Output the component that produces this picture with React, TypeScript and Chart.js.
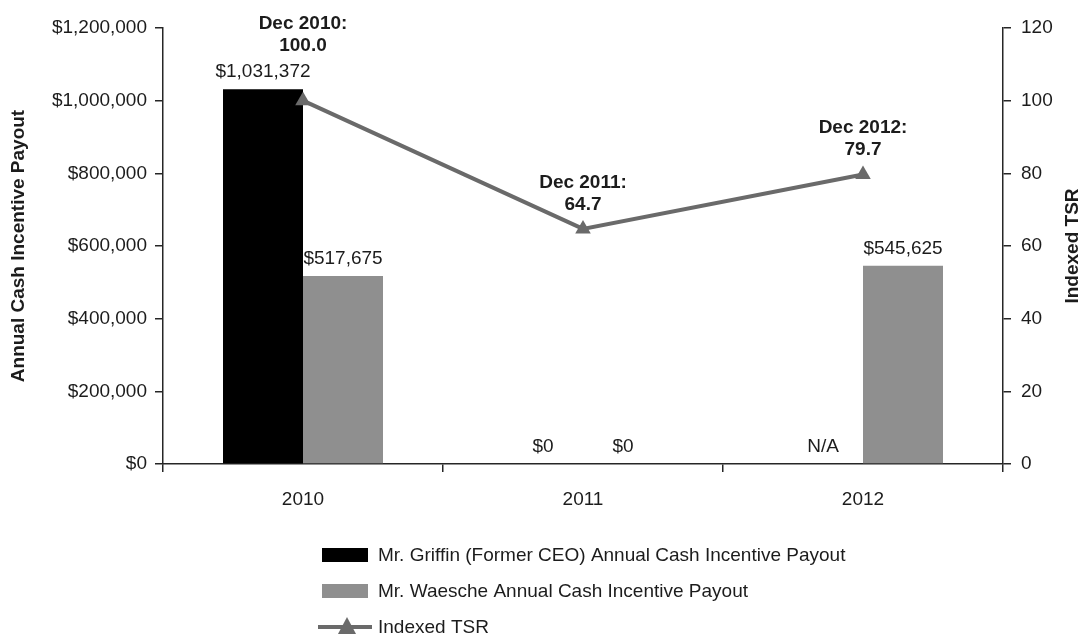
import React, { useEffect, useRef } from "react";
import { Chart, registerables } from "chart.js";

Chart.register(...registerables);

const categories = ["2010", "2011", "2012"];
const griffinPayout: (number | null)[] = [1031372, 0, null];
const waeschePayout: (number | null)[] = [517675, 0, 545625];
const tsrValues = [100.0, 64.7, 79.7];
const tsrDates = ["Dec 2010", "Dec 2011", "Dec 2012"];
const seriesNames = [
  "Mr. Griffin (Former CEO) Annual Cash Incentive Payout",
  "Mr. Waesche Annual Cash Incentive Payout",
  "Indexed TSR",
];
const leftAxisTitle = "Annual Cash Incentive Payout";
const rightAxisTitle = "Indexed TSR";

const FONT = "'Liberation Sans', Arial, Helvetica, sans-serif";
const FS = 19;
const TEXT = "#1c1c1c";
const AXIS = "#262626";
const BLACK = "#000000";
const GRAY = "#8f8f8f";
const LINE = "#6a6a6a";

const fmtMoney = (v: number) => "$" + Math.round(v).toLocaleString("en-US");

const labelsPlugin = {
  id: "customLabels",
  afterDraw(chart: any) {
    const ctx = chart.ctx as CanvasRenderingContext2D;
    const area = chart.chartArea;
    ctx.save();
    ctx.fillStyle = TEXT;
    ctx.textAlign = "center";
    ctx.textBaseline = "alphabetic";
    ctx.font = `${FS}px ${FONT}`;

    // bar labels
    const barTopLabel: number[] = categories.map(() => Infinity);
    [0, 1].forEach((di) => {
      const meta = chart.getDatasetMeta(di);
      const other = chart.getDatasetMeta(di === 0 ? 1 : 0);
      const vals = chart.data.datasets[di].data as (number | null)[];
      meta.data.forEach((el: any, i: number) => {
        const v = vals[i];
        let x = el.x;
        if (!isFinite(x)) {
          const o = other.data[i] as any;
          x = di === 0 ? o.x - o.width : o.x + o.width;
        }
        let top: number;
        let txt: string;
        if (v === null || v === undefined) {
          top = area.bottom;
          txt = "N/A";
        } else {
          top = chart.scales.y.getPixelForValue(v);
          txt = fmtMoney(v);
        }
        const base = top - 12;
        ctx.fillText(txt, x, base);
        barTopLabel[i] = Math.min(barTopLabel[i], base - 13);
      });
    });

    // line point labels
    ctx.font = `bold ${FS}px ${FONT}`;
    const lm = chart.getDatasetMeta(2);
    lm.data.forEach((pt: any, i: number) => {
      let b2 = pt.y - 19;
      if (b2 > barTopLabel[i] - 5 && pt.y > barTopLabel[i] - 40) {
        b2 = barTopLabel[i] - 13;
      }
      ctx.fillText(tsrValues[i].toFixed(1), pt.x, b2);
      ctx.fillText(tsrDates[i] + ":", pt.x, b2 - 22);
    });

    // right axis title (reads bottom to top)
    ctx.save();
    ctx.font = `bold ${FS}px ${FONT}`;
    ctx.translate(1073, (area.top + area.bottom) / 2);
    ctx.rotate(-Math.PI / 2);
    ctx.textBaseline = "middle";
    ctx.fillText(rightAxisTitle, 0, 0);
    ctx.restore();

    // legend
    ctx.font = `${FS}px ${FONT}`;
    ctx.textAlign = "left";
    ctx.textBaseline = "middle";
    const rows = [555, 591, 627];
    const colors = [BLACK, GRAY];
    for (let r = 0; r < 3; r++) {
      const cy = rows[r];
      if (r < 2) {
        ctx.fillStyle = colors[r];
        ctx.fillRect(322, cy - 7, 46, 14);
      } else {
        ctx.strokeStyle = LINE;
        ctx.lineWidth = 4;
        ctx.beginPath();
        ctx.moveTo(318, cy);
        ctx.lineTo(372, cy);
        ctx.stroke();
        ctx.fillStyle = LINE;
        ctx.beginPath();
        ctx.moveTo(347, cy - 10);
        ctx.lineTo(356, cy + 7);
        ctx.lineTo(338, cy + 7);
        ctx.closePath();
        ctx.fill();
      }
      ctx.fillStyle = TEXT;
      ctx.fillText(seriesNames[r], 378, cy + 1);
    }
    ctx.restore();
  },
};

export default function App() {
  const ref = useRef<HTMLCanvasElement | null>(null);
  useEffect(() => {
    if (!ref.current) return;
    const chart = new Chart(ref.current, {
      type: "bar",
      data: {
        labels: categories,
        datasets: [
          {
            type: "bar",
            label: seriesNames[0],
            data: griffinPayout as any,
            backgroundColor: BLACK,
            yAxisID: "y",
            order: 1,
            barPercentage: 1,
            categoryPercentage: 160 / 280,
          },
          {
            type: "bar",
            label: seriesNames[1],
            data: waeschePayout as any,
            backgroundColor: GRAY,
            yAxisID: "y",
            order: 1,
            barPercentage: 1,
            categoryPercentage: 160 / 280,
          },
          {
            type: "line",
            label: seriesNames[2],
            data: tsrValues,
            borderColor: LINE,
            backgroundColor: LINE,
            borderWidth: 4,
            pointStyle: "triangle",
            pointRadius: 9,
            pointBackgroundColor: LINE,
            pointBorderColor: LINE,
            pointBorderWidth: 0,
            yAxisID: "y1",
            order: 0,
          } as any,
        ],
      },
      options: {
        responsive: false,
        animation: false,
        events: [],
        layout: { padding: { top: 28, left: 0, right: 0, bottom: 0 } },
        plugins: {
          legend: { display: false },
          tooltip: { enabled: false },
          title: { display: false },
        },
        scales: {
          x: {
            offset: true,
            grid: {
              offset: true,
              drawOnChartArea: false,
              drawTicks: true,
              tickLength: 8,
              color: AXIS,
              lineWidth: 1.5,
            },
            border: { display: true, color: AXIS, width: 1.5 },
            ticks: {
              color: TEXT,
              padding: 16,
              font: { family: FONT, size: FS },
              maxRotation: 0,
            },
            afterFit: (s: any) => {
              s.height = 635 - 464;
            },
          },
          y: {
            position: "left",
            min: 0,
            max: 1200000,
            ticks: {
              stepSize: 200000,
              color: TEXT,
              padding: 8,
              font: { family: FONT, size: FS },
              callback: (v: any) => fmtMoney(Number(v)),
            },
            grid: {
              drawOnChartArea: false,
              tickLength: 8,
              color: AXIS,
              lineWidth: 1.5,
            },
            border: { display: true, color: AXIS, width: 1.5 },
            title: {
              display: true,
              text: leftAxisTitle,
              color: TEXT,
              font: { family: FONT, size: FS, weight: "bold" },
              padding: { top: 7, bottom: 0 },
            },
            afterFit: (s: any) => {
              s.width = 163;
            },
          },
          y1: {
            position: "right",
            min: 0,
            max: 120,
            ticks: {
              stepSize: 20,
              color: TEXT,
              padding: 10,
              font: { family: FONT, size: FS },
            },
            grid: {
              drawOnChartArea: false,
              tickLength: 8,
              color: AXIS,
              lineWidth: 1.5,
            },
            border: { display: true, color: AXIS, width: 1.5 },
            title: { display: false },
            afterFit: (s: any) => {
              s.width = 1082 - 1003;
            },
          },
        },
      },
      plugins: [labelsPlugin],
    });
    return () => chart.destroy();
  }, []);

  return (
    <div style={{ position: "absolute", left: 0, top: 0, width: 1082, height: 635, background: "#fff" }}>
      <canvas ref={ref} width={1082} height={635} />
    </div>
  );
}
